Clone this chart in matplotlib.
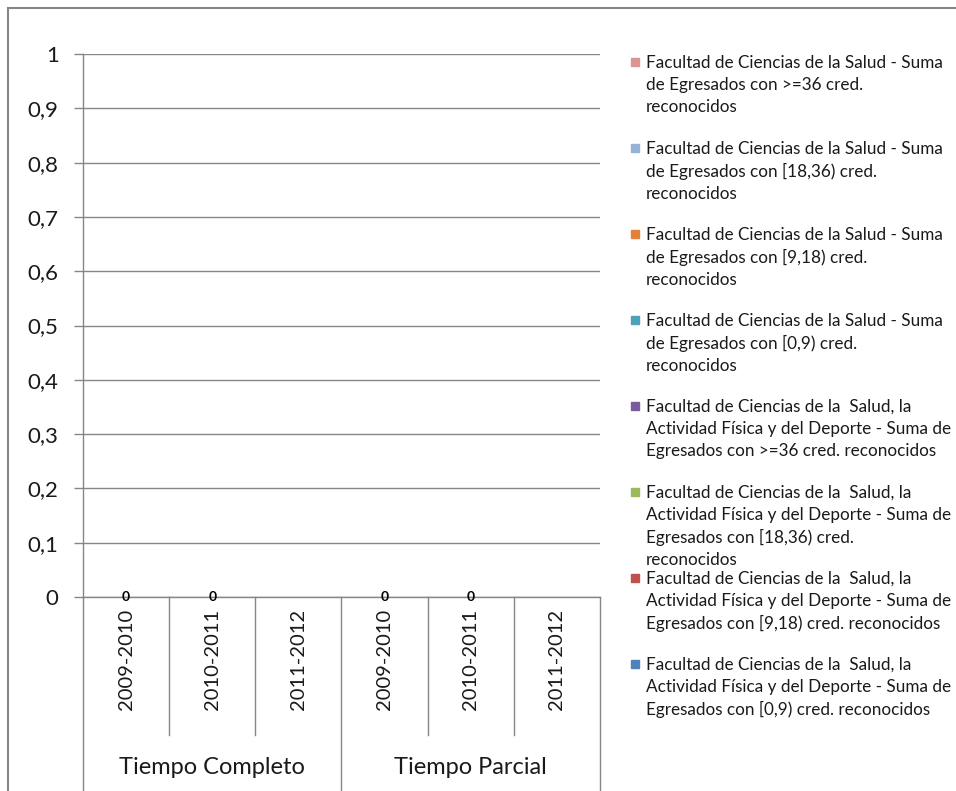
import matplotlib
matplotlib.use("Agg")
import matplotlib.pyplot as plt
import matplotlib.patches as mpatches
import numpy as np

plt.rcParams['font.family'] = ['Lato', 'DejaVu Sans']

groups = ["Tiempo Completo", "Tiempo Parcial"]
years = ["2009-2010", "2010-2011", "2011-2012"]
series_names = [
    "Facultad de Ciencias de la Salud - Suma\nde Egresados con >=36 cred.\nreconocidos",
    "Facultad de Ciencias de la Salud - Suma\nde Egresados con [18,36) cred.\nreconocidos",
    "Facultad de Ciencias de la Salud - Suma\nde Egresados con [9,18) cred.\nreconocidos",
    "Facultad de Ciencias de la Salud - Suma\nde Egresados con [0,9) cred.\nreconocidos",
    "Facultad de Ciencias de la  Salud, la\nActividad Física y del Deporte - Suma de\nEgresados con >=36 cred. reconocidos",
    "Facultad de Ciencias de la  Salud, la\nActividad Física y del Deporte - Suma de\nEgresados con [18,36) cred.\nreconocidos",
    "Facultad de Ciencias de la  Salud, la\nActividad Física y del Deporte - Suma de\nEgresados con [9,18) cred. reconocidos",
    "Facultad de Ciencias de la  Salud, la\nActividad Física y del Deporte - Suma de\nEgresados con [0,9) cred. reconocidos",
]
series_colors = ["#D99694", "#95B3D7", "#E3803A", "#4AA3B8",
                 "#7A5C9E", "#9BBB59", "#C0504D", "#4F81BD"]
# values per category (TC 09-10, 10-11, 11-12, TP 09-10, 10-11, 11-12)
nan = np.nan
series_values = [
    [nan, nan, nan, nan, nan, nan],
    [nan, nan, nan, nan, nan, nan],
    [nan, nan, nan, nan, nan, nan],
    [nan, nan, nan, nan, nan, nan],
    [nan, nan, nan, nan, nan, nan],
    [nan, nan, nan, nan, nan, nan],
    [nan, nan, nan, nan, nan, nan],
    [0, 0, nan, 0, 0, nan],
]
yticks = [0, 0.1, 0.2, 0.3, 0.4, 0.5, 0.6, 0.7, 0.8, 0.9, 1]
ytick_labels = ["0", "0,1", "0,2", "0,3", "0,4", "0,5", "0,6", "0,7", "0,8", "0,9", "1"]

W, H = 956, 791
fig = plt.figure(figsize=(W / 100, H / 100), dpi=100)
# outer chart border
fig.patches.append(mpatches.Rectangle((8 / W, -0.1), 1.2, 1 - 8 / H + 0.1,
                                      transform=fig.transFigure, fill=False,
                                      edgecolor="#868686", linewidth=1.5))

L, R, T, B = 83, 600, 54, 597
ax = fig.add_axes([L / W, 1 - B / H, (R - L) / W, (B - T) / H])
grey = "#868686"

n = len(groups) * len(years)
x = np.arange(n)
bottom = np.zeros(n)
for vals, col, name in zip(series_values, series_colors, series_names):
    v = np.array(vals, dtype=float)
    bars = ax.bar(x, np.nan_to_num(v), width=0.55, bottom=bottom, color=col, label=name)
    labels = ["" if np.isnan(val) else f"{val:g}" for val in v]
    if any(labels):
        ax.bar_label(bars, labels=labels, label_type="center", fontsize=10,
                     fontweight="bold", color="#000000")
    bottom += np.nan_to_num(v)

ax.set_xlim(-0.5, n - 0.5)
ax.set_ylim(0, 1)
ax.set_yticks(yticks)
ax.set_yticklabels(ytick_labels, fontsize=16, color="#1a1a1a")
ax.yaxis.grid(True, color=grey, linewidth=1)
ax.set_axisbelow(True)
ax.tick_params(axis="y", length=6.5, color=grey, width=1, pad=11)
ax.set_xticks([])
for s in ["top", "right"]:
    ax.spines[s].set_visible(False)
for s in ["left", "bottom"]:
    ax.spines[s].set_color(grey)
    ax.spines[s].set_linewidth(1)

axh = B - T
inner = -(735 - B) / axh
outer = -(800 - B) / axh
trans = ax.get_xaxis_transform()
for i in range(n + 1):
    xs = i - 0.5
    low = outer if i % len(years) == 0 else inner
    ax.plot([xs, xs], [0, low], transform=trans, color=grey, linewidth=1, clip_on=False)
for i in range(n):
    ax.text(x[i], -(659 - B) / axh, years[i % len(years)], transform=trans,
            rotation=90, ha="center", va="center", fontsize=14.5, color="#1a1a1a")
for g, name in enumerate(groups):
    cx = g * len(years) + (len(years) - 1) / 2
    ax.text(cx, -(768 - B) / axh, name, transform=trans, ha="center",
            va="center", fontsize=17, color="#1a1a1a")

# legend
leg_y0 = 62
leg_step = 86
for k, (name, col) in enumerate(zip(series_names, series_colors)):
    yk = leg_y0 + k * leg_step
    fig.patches.append(mpatches.Rectangle((631 / W, 1 - (yk + 4) / H), 8 / W, 8 / H,
                                          transform=fig.transFigure, color=col))
    fig.text(646 / W, 1 - (yk - 7) / H, name, ha="left", va="top", fontsize=12.3,
             linespacing=1.45, color="#1a1a1a")

fig.savefig("out.png", dpi=100)
